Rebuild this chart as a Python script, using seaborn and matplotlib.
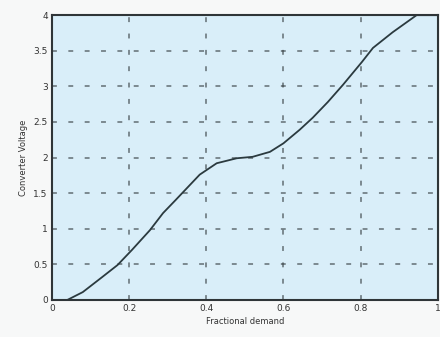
import pandas as pd
import matplotlib
matplotlib.use("Agg")
import matplotlib.pyplot as plt
import seaborn as sns

# values
demand = [0.0, 0.04, 0.08, 0.13, 0.17, 0.207, 0.254, 0.288, 0.32, 0.355, 0.383,
          0.427, 0.479, 0.52, 0.565, 0.6, 0.642, 0.676, 0.715, 0.754, 0.803, 0.832,
          0.883, 0.945, 1.0]
voltage = [0.0, 0.0, 0.11, 0.32, 0.49, 0.7, 0.98, 1.22, 1.4, 1.6, 1.76,
           1.92, 1.99, 2.01, 2.08, 2.2, 2.39, 2.56, 2.78, 3.02, 3.34, 3.54,
           3.76, 4.0, 4.0]
x_ticks = [0, 0.2, 0.4, 0.6, 0.8, 1]
x_tick_labels = ["0", "0.2", "0.4", "0.6", "0.8", "1"]
y_ticks = [0, 0.5, 1, 1.5, 2, 2.5, 3, 3.5, 4]
y_tick_labels = ["0", "0.5", "1", "1.5", "2", "2.5", "3", "3.5", "4"]

df = pd.DataFrame({"Fractional demand": demand, "Converter Voltage": voltage})

sns.set_style("white")
plt.rcParams["font.family"] = ["DejaVu Sans"]

fig = plt.figure(figsize=(4.4, 3.37), dpi=100)
fig.patch.set_facecolor("#f7f8f8")
ax = fig.add_axes([0.118, 0.11, 0.877, 0.845])
ax.set_facecolor("#d9eef9")

sns.lineplot(data=df, x="Fractional demand", y="Converter Voltage", color="#2b3a3f",
             linewidth=1.3, ax=ax)

ax.set_xlim(0, 1)
ax.set_ylim(0, 4)
ax.set_xticks(x_ticks)
ax.set_xticklabels(x_tick_labels)
ax.set_yticks(y_ticks)
ax.set_yticklabels(y_tick_labels)
ax.tick_params(labelsize=6.5, colors="#333333", length=0, pad=3)
ax.grid(True, color="#3a4347", linestyle=(0, (3.2, 7.5)), linewidth=1.1, alpha=0.75)
for side in ["left", "top", "bottom", "right"]:
    ax.spines[side].set_color("#2f3538")
    ax.spines[side].set_linewidth(1.5)
ax.set_xlabel("Fractional demand", fontsize=6, color="#333333", labelpad=3)
ax.set_ylabel("Converter Voltage", fontsize=6, color="#333333", labelpad=4)

fig.savefig("out.png", dpi=100, facecolor=fig.get_facecolor())
